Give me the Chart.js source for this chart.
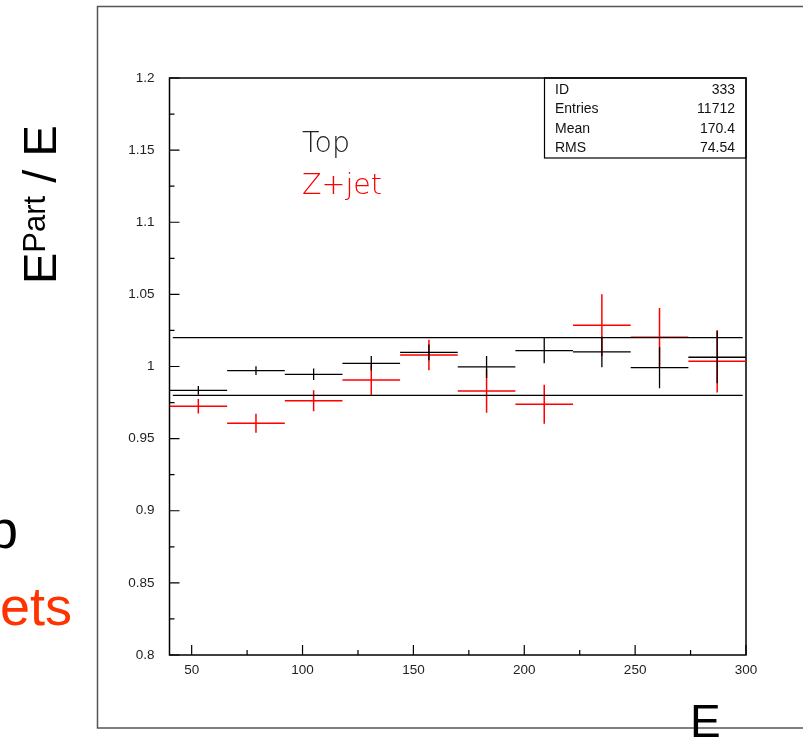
<!DOCTYPE html>
<html>
<head>
<meta charset="utf-8">
<script src="https://cdn.jsdelivr.net/npm/chart.js@4.4.0/dist/chart.umd.min.js"></script>
<style>
    html, body { margin: 0; padding: 0; background: #fff; overflow: hidden; }
    canvas { display: block; }
</style>
</head>
<body>
<canvas id="ratioChart" width="803" height="738"></canvas>
<script>
// Histogram data (E bins, ratio EPart/E per bin)
const binEdges = [40, 66, 92, 118, 144, 170, 196, 222, 248, 274, 300];
const topValues = [0.9835, 0.9971, 0.9946, 1.0022, 1.0098, 0.9997, 1.0110, 1.0101, 0.9992, 1.0064];
const topErrors = [0.003, 0.003, 0.004, 0.005, 0.0055, 0.0076, 0.0087, 0.0106, 0.0142, 0.018];
const zjetValues = [0.9724, 0.9606, 0.9763, 0.9906, 1.0080, 0.9830, 0.9738, 1.0286, 1.0202, 1.0036];
const zjetErrors = [0.005, 0.0066, 0.0073, 0.011, 0.0106, 0.015, 0.0135, 0.0215, 0.0203, 0.0217];
const bandLevels = [0.98, 1.02];
const bandRange = [41.5, 298.5];
const xTickValues = [50, 100, 150, 200, 250, 300];
const xMinorTicks = [75, 125, 175, 225, 275];
const yTickLabels = ['0.8', '0.85', '0.9', '0.95', '1', '1.05', '1.1', '1.15', '1.2'];
const statNames = ['ID', 'Entries', 'Mean', 'RMS'];
const statValues = ['333', '11712', '170.4', '74.54'];

const RED = '#ff0000';
const SLIDE_RED = '#ff3300';

// horizontal bin-width bars, broken by null points
function binBars(values) {
    const pts = [];
    values.forEach((v, i) => {
        pts.push({ x: binEdges[i], y: v }, { x: binEdges[i + 1], y: v }, { x: binEdges[i + 1], y: null });
    });
    return pts;
}

// vertical error bars at bin centres
function errorBars(values, errors) {
    const pts = [];
    values.forEach((v, i) => {
        const c = (binEdges[i] + binEdges[i + 1]) / 2;
        pts.push({ x: c, y: v - errors[i] }, { x: c, y: v + errors[i] }, { x: c, y: null });
    });
    return pts;
}

function lineSet(data, color, width) {
    return {
        data: data,
        borderColor: color,
        borderWidth: width,
        pointRadius: 0,
        spanGaps: false,
        fill: false,
        tension: 0
    };
}

const bandData = [];
bandLevels.forEach(l => {
    bandData.push({ x: bandRange[0], y: l }, { x: bandRange[1], y: l }, { x: bandRange[1], y: null });
});

const decorPlugin = {
    id: 'decor',
    beforeDatasetsDraw(chart) {
        const ctx = chart.ctx;
        const a = chart.chartArea;
        const xs = chart.scales.x;
        const ys = chart.scales.y;
        ctx.save();

        // outer slide frame
        ctx.strokeStyle = '#555';
        ctx.lineWidth = 1.5;
        ctx.strokeRect(97.5, 6.5, 760, 721.5);

        // plot frame
        ctx.strokeStyle = '#000';
        ctx.lineWidth = 1.5;
        ctx.strokeRect(a.left, a.top, a.right - a.left, a.bottom - a.top);

        // inward ticks
        ctx.lineWidth = 1.2;
        ctx.beginPath();
        xTickValues.forEach(v => {
            const px = xs.getPixelForValue(v);
            ctx.moveTo(px, a.bottom);
            ctx.lineTo(px, a.bottom - 10);
        });
        xMinorTicks.forEach(v => {
            const px = xs.getPixelForValue(v);
            ctx.moveTo(px, a.bottom);
            ctx.lineTo(px, a.bottom - 5);
        });
        const yVals = yTickLabels.map(Number);
        yVals.forEach((v, i) => {
            const py = ys.getPixelForValue(v);
            ctx.moveTo(a.left, py);
            ctx.lineTo(a.left + 10, py);
            if (i < yVals.length - 1) {
                const pm = ys.getPixelForValue((v + yVals[i + 1]) / 2);
                ctx.moveTo(a.left, pm);
                ctx.lineTo(a.left + 5, pm);
            }
        });
        ctx.stroke();

        // stats box
        ctx.lineWidth = 1.2;
        ctx.strokeRect(544.5, a.top, a.right - 544.5, 80);
        ctx.fillStyle = '#111';
        ctx.font = '14px "Liberation Sans", Arial, sans-serif';
        statNames.forEach((n, i) => {
            const by = 93.5 + i * 19.6;
            ctx.textAlign = 'left';
            ctx.fillText(n, 555, by);
            ctx.textAlign = 'right';
            ctx.fillText(statValues[i], 735, by);
        });

        // in-plot legend text
        ctx.textAlign = 'left';
        ctx.font = '200 28.5px "DejaVu Sans", sans-serif';
        ctx.fillStyle = '#222';
        ctx.fillText('Top', 302, 152);
        ctx.fillStyle = RED;
        ctx.fillText('Z+jet', 302, 194);

        // slide text around the plot
        ctx.fillStyle = '#000';
        ctx.save();
        ctx.translate(56, 284);
        ctx.rotate(-Math.PI / 2);
        ctx.font = '47px "Liberation Sans", Arial, sans-serif';
        ctx.fillText('E', 0, 0);
        let off = ctx.measureText('E').width;
        ctx.font = '31px "Liberation Sans", Arial, sans-serif';
        ctx.fillText('Part', off, -11);
        off += ctx.measureText('Part').width;
        ctx.font = '47px "Liberation Sans", Arial, sans-serif';
        ctx.fillText(' / E', off, 0);
        ctx.restore();

        ctx.font = '46px "Liberation Sans", Arial, sans-serif';
        ctx.fillText('E', 690, 737);

        ctx.font = '54px "Liberation Sans", Arial, sans-serif';
        ctx.textAlign = 'right';
        ctx.fillText('Top', 18, 548);
        ctx.fillStyle = SLIDE_RED;
        ctx.fillText('Z+jets', 72, 625);

        ctx.restore();
    }
};

new Chart(document.getElementById('ratioChart').getContext('2d'), {
    type: 'line',
    data: {
        datasets: [
            lineSet(bandData, '#000', 1.3),
            lineSet(binBars(topValues), '#000', 1.3),
            lineSet(errorBars(topValues, topErrors), '#000', 1.3),
            lineSet(binBars(zjetValues), RED, 1.5),
            lineSet(errorBars(zjetValues, zjetErrors), RED, 1.5)
        ]
    },
    options: {
        responsive: false,
        animation: false,
        devicePixelRatio: 1,
        layout: {
            padding: { left: 0, right: 57, top: 78, bottom: 0 }
        },
        plugins: {
            legend: { display: false },
            tooltip: { enabled: false }
        },
        scales: {
            x: {
                type: 'linear',
                min: 40,
                max: 300,
                grid: { display: false, drawTicks: false },
                border: { display: false },
                afterBuildTicks: (scale) => {
                    scale.ticks = xTickValues.map(v => ({ value: v }));
                },
                afterFit: (scale) => { scale.height = 83; },
                ticks: {
                    padding: 7,
                    color: '#222',
                    maxRotation: 0,
                    autoSkip: false,
                    font: { family: '"Liberation Sans", Arial, sans-serif', size: 13.5 },
                    callback: (value) => String(value)
                }
            },
            y: {
                type: 'linear',
                min: 0.8,
                max: 1.2,
                grid: { display: false, drawTicks: false },
                border: { display: false },
                afterBuildTicks: (scale) => {
                    scale.ticks = yTickLabels.map(t => ({ value: Number(t) }));
                },
                afterFit: (scale) => { scale.width = 169.5; },
                ticks: {
                    padding: 15,
                    color: '#222',
                    autoSkip: false,
                    font: { family: '"Liberation Sans", Arial, sans-serif', size: 13.5 },
                    callback: (value, index) => yTickLabels[index]
                }
            }
        }
    },
    plugins: [decorPlugin]
});
</script>
</body>
</html>
